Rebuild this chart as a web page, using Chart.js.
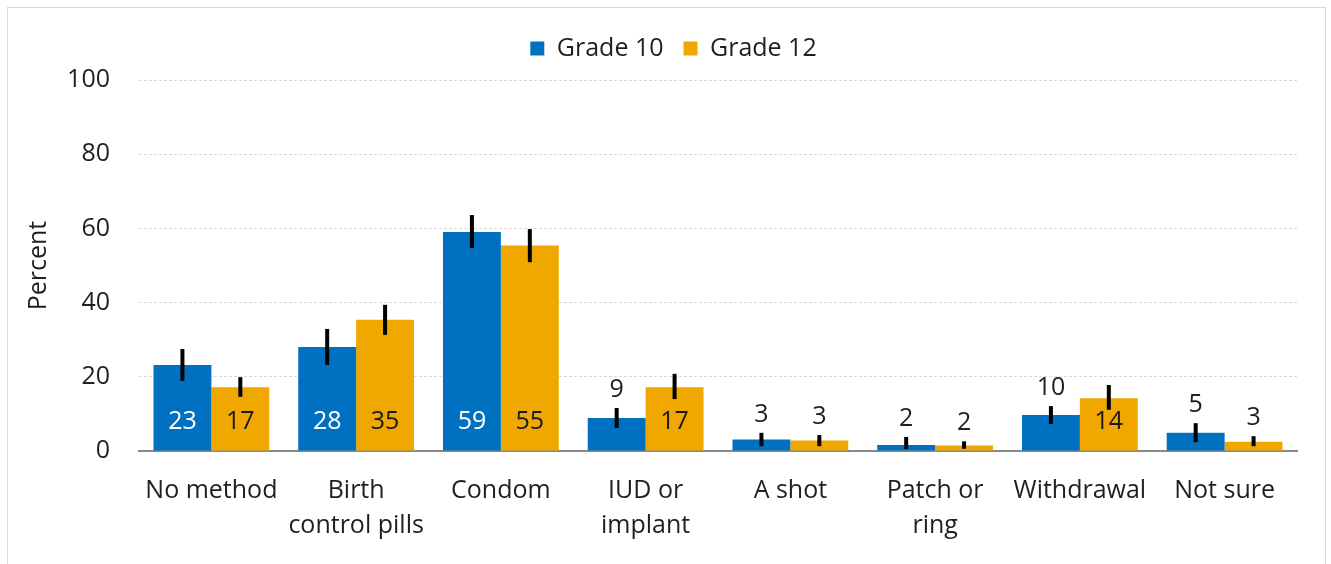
<!DOCTYPE html>
<html><head><meta charset="utf-8">
<script src="https://cdn.jsdelivr.net/npm/chart.js@4.4.0/dist/chart.umd.min.js"></script>
<style>
html,body{margin:0;padding:0;background:#fff;}
#wrap{position:relative;width:1331px;height:564px;overflow:hidden;}
</style></head>
<body><div id="wrap"><canvas id="c" width="1331" height="564"></canvas></div>
<script>
const categories = ['No method', ['Birth','control pills'], 'Condom', ['IUD or','implant'], 'A shot', ['Patch or','ring'], 'Withdrawal', 'Not sure'];
const seriesNames = ['Grade 10', 'Grade 12'];
const grade10 = [23.2, 28.0, 59.0, 8.9, 3.1, 1.6, 9.7, 4.9];
const grade12 = [17.2, 35.4, 55.4, 17.2, 2.8, 1.5, 14.2, 2.5];
const grade10Low = [18.9, 23.2, 54.7, 6.2, 1.3, 0.5, 7.3, 2.4];
const grade10High = [27.5, 32.9, 63.6, 11.6, 4.9, 3.8, 12.1, 7.5];
const grade12Low = [14.6, 31.3, 50.9, 14.0, 1.3, 0.6, 11.1, 1.3];
const grade12High = [19.9, 39.4, 59.8, 20.8, 4.3, 2.6, 17.8, 4.0];
const yTicks = [0, 20, 40, 60, 80, 100];

const FONT = "'Open Sans', 'Noto Sans', sans-serif";
const FS = 25;
const TEXT = '#1f1f1f';
const COLORS = ['#0070C0', '#F0A800'];
const lows = [grade10Low, grade12Low];
const highs = [grade10High, grade12High];

const frame = {
  id: 'frame',
  beforeInit(chart) {
    const lg = chart.legend;
    if (lg && !lg._patched) {
      const orig = lg.fit;
      lg.fit = function () { orig.call(this); this.height += 9; };
      lg._patched = true;
    }
  },
  afterLayout(chart) {
    const lg = chart.legend;
    if (lg) { lg.left += 13; lg.right += 13; }
  },
  beforeDraw(chart) {
    const ctx = chart.ctx;
    ctx.save();
    ctx.strokeStyle = '#d9d9d9';
    ctx.lineWidth = 1;
    ctx.strokeRect(7.5, 7.5, 1318, 620);
    ctx.restore();
  }
};

const errAndLabels = {
  id: 'errAndLabels',
  afterDatasetsDraw(chart) {
    const ctx = chart.ctx;
    const y = chart.scales.y;
    ctx.save();
    chart.data.datasets.forEach((ds, di) => {
      const meta = chart.getDatasetMeta(di);
      meta.data.forEach((bar, i) => {
        const x = bar.x;
        const yl = y.getPixelForValue(lows[di][i]);
        const yh = y.getPixelForValue(highs[di][i]);
        ctx.strokeStyle = '#000';
        ctx.lineWidth = 4;
        ctx.beginPath();
        ctx.moveTo(x, yl);
        ctx.lineTo(x, yh);
        ctx.stroke();
        const v = ds.data[i];
        const txt = String(Math.round(v));
        ctx.font = FS + 'px ' + FONT;
        ctx.textAlign = 'center';
        ctx.textBaseline = 'middle';
        if (v >= 12) {
          ctx.fillStyle = di === 0 ? '#ffffff' : '#1a1a1a';
          ctx.fillText(txt, x, y.getPixelForValue(0) - 29);
        } else {
          ctx.fillStyle = TEXT;
          ctx.fillText(txt, x, Math.min(yh, bar.y) - 18);
        }
      });
    });
    ctx.restore();
  }
};

new Chart(document.getElementById('c'), {
  type: 'bar',
  data: {
    labels: categories,
    datasets: [
      { label: seriesNames[0], data: grade10, backgroundColor: COLORS[0], borderWidth: 0 },
      { label: seriesNames[1], data: grade12, backgroundColor: COLORS[1], borderWidth: 0 }
    ]
  },
  options: {
    responsive: false,
    animation: false,
    devicePixelRatio: 1,
    layout: { padding: { left: 24, right: 34, top: 16, bottom: 0 } },
    datasets: { bar: { categoryPercentage: 0.8, barPercentage: 1.0 } },
    plugins: {
      legend: {
        position: 'top',
        labels: {
          boxWidth: 14, boxHeight: 14, padding: 20,
          color: TEXT, font: { family: FONT, size: FS }
        }
      },
      tooltip: { enabled: false }
    },
    scales: {
      x: {
        grid: { display: false, drawTicks: false },
        border: { display: true, color: '#898989', width: 2 },
        ticks: { color: TEXT, font: { family: FONT, size: FS, lineHeight: 1.38 }, padding: 23, maxRotation: 0, autoSkip: false },
        afterFit(scale) { scale.height = 113; }
      },
      y: {
        min: 0, max: 100,
        afterBuildTicks(scale) { scale.ticks = yTicks.map(v => ({ value: v })); },
        grid: { color: '#d9d9d9', lineWidth: 1, drawTicks: false },
        border: { display: false, dash: [3, 2] },
        ticks: { color: TEXT, font: { family: FONT, size: FS }, padding: 29 },
        title: { display: true, text: 'Percent', color: TEXT, font: { family: FONT, size: FS }, padding: { top: 0, bottom: 0 } },
        afterFit(scale) { scale.width = 115; }
      }
    }
  },
  plugins: [frame, errAndLabels]
});
</script>
</body></html>
